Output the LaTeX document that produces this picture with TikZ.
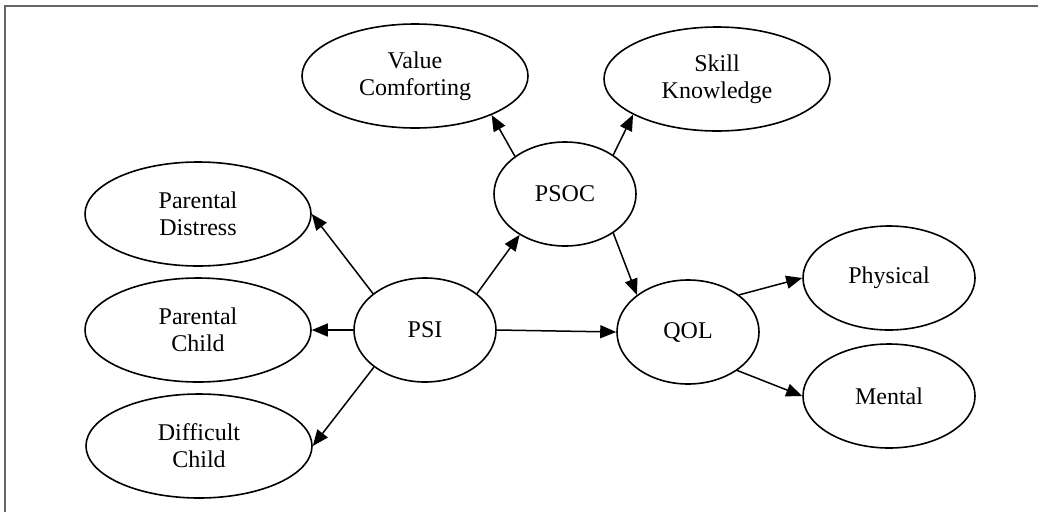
\documentclass[tikz,border=0pt]{standalone}
\usepackage{fontspec}
\setmainfont{Liberation Serif}
\usetikzlibrary{arrows.meta, shapes.geometric}
\definecolor{framegray}{HTML}{666666}

\begin{document}
\begin{tikzpicture}[x=1pt, y=-1pt, >={Triangle[length=16pt, width=13pt]},
  construct/.style={ellipse, draw, line width=1.6pt, inner sep=0pt, align=center,
    font=\fontsize{24}{27}\selectfont},
  small/.style={construct, minimum width=142pt, minimum height=104pt},
  wide/.style={construct, minimum width=172pt, minimum height=104pt},
  large/.style={construct, minimum width=226pt, minimum height=104pt},
  path/.style={->, line width=1.5pt}]

% Canvas
\useasboundingbox (0,0) rectangle (1038,512);
\draw[framegray, line width=1.8pt] (1038,6) -- (5,6) -- (5,512);

% Stress dimensions
\node[large] (pd) at (198,214) {Parental\\Distress};
\node[large] (pc) at (198,330) {Parental\\Child};
\node[large] (dc) at (199,446) {Difficult\\Child};

% Central constructs
\node[small] (psi) at (425,330) {PSI};
\node[small] (psoc) at (565,194) {PSOC};
\node[small] (qol) at (688,332) {QOL};

% Competence dimensions
\node[large] (vc) at (415,76) {Value\\Comforting};
\node[large] (sk) at (717,79) {Skill\\Knowledge};

% Quality of life dimensions
\node[wide] (phys) at (889,278) {Physical};
\node[wide] (ment) at (889,396) {Mental};

% Paths
\draw[path] (psi.145) -- (pd.east);
\draw[path] (psi.west) -- (pc.east);
\draw[path] (psi.216) -- (dc.east);
\draw[path] (psi.35) -- (psoc.222);
\draw[path] (psi.east) -- (qol.west);
\draw[path] (psoc.143) -- (vc.333);
\draw[path] (psoc.39) -- (sk.203);
\draw[path] (psoc.321) -- (qol.144);
\draw[path] (qol.36) -- (phys.west);
\draw[path] (qol.322) -- (ment.west);

\end{tikzpicture}
\end{document}
